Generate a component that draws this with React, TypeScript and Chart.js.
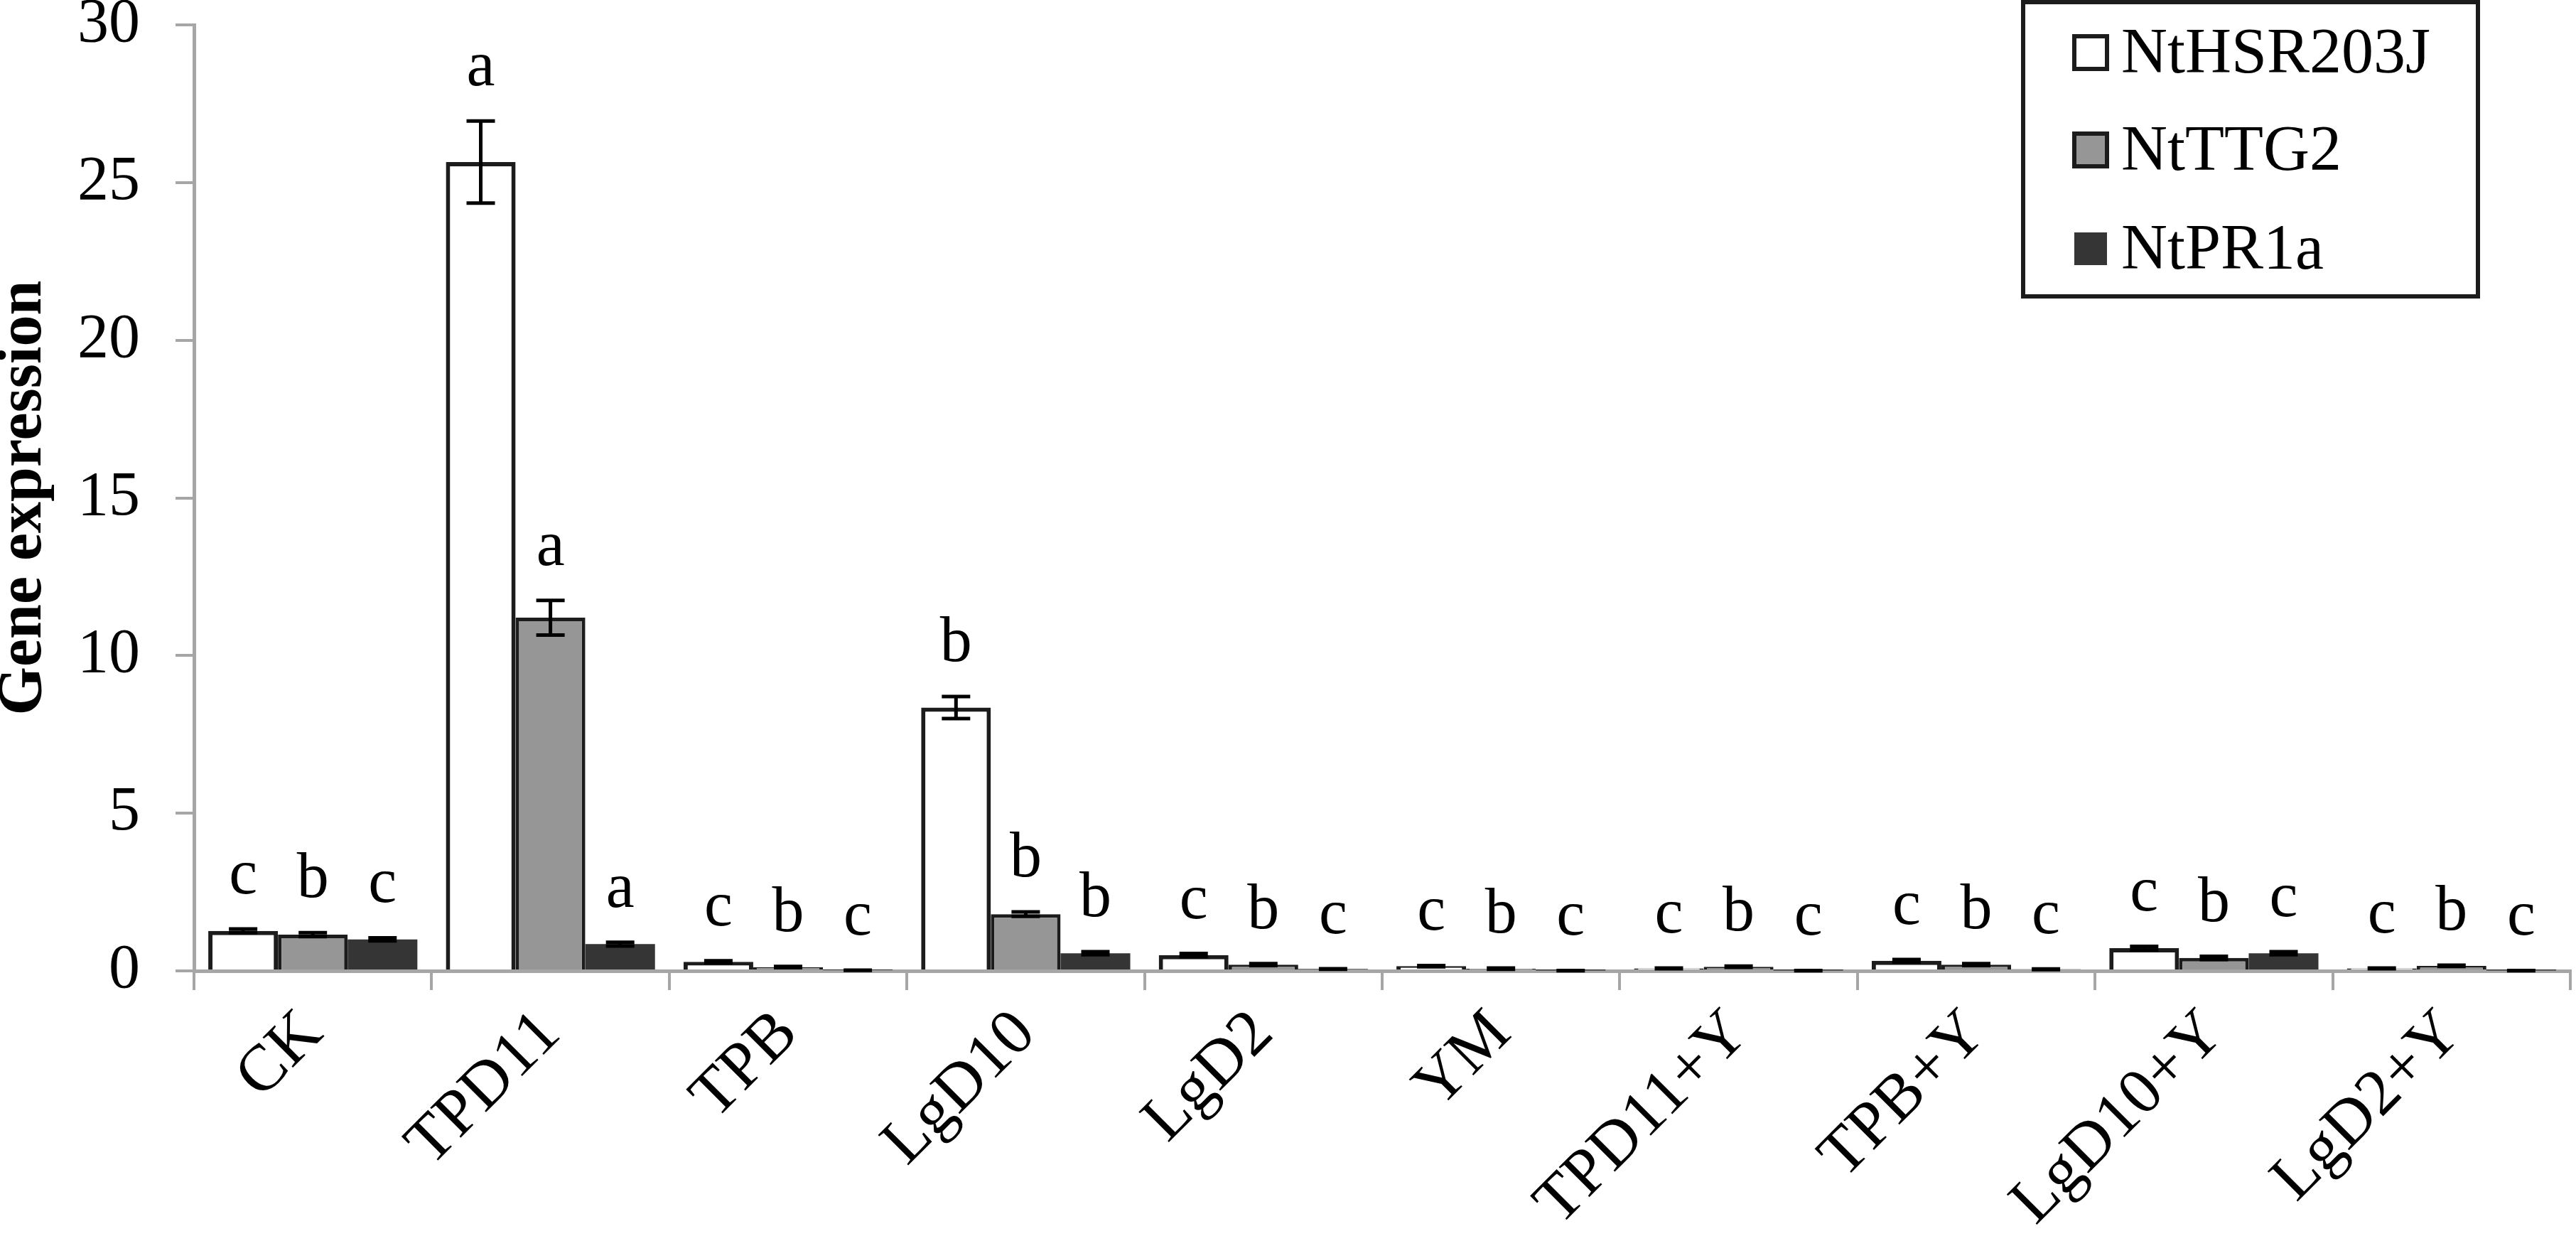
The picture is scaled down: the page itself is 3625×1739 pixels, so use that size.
import React, { useEffect, useRef } from "react";
import { Chart, registerables } from "chart.js";

Chart.register(...registerables);

const categories = ["CK", "TPD11", "TPB", "LgD10", "LgD2", "YM", "TPD11+Y", "TPB+Y", "LgD10+Y", "LgD2+Y"];
const seriesNames = ["NtHSR203J", "NtTTG2", "NtPR1a"];

const hsrValues = [1.27, 25.65, 0.29, 8.35, 0.5, 0.15, 0.08, 0.32, 0.72, 0.08];
const hsrErrors = [0.06, 1.3, 0.03, 0.35, 0.05, 0.02, 0.01, 0.04, 0.06, 0.01];
const hsrLetters = ["c", "a", "c", "b", "c", "c", "c", "c", "c", "c"];

const ttgValues = [1.15, 11.2, 0.12, 1.8, 0.2, 0.07, 0.13, 0.2, 0.41, 0.16];
const ttgErrors = [0.06, 0.55, 0.02, 0.07, 0.03, 0.02, 0.02, 0.03, 0.05, 0.02];
const ttgLetters = ["b", "a", "b", "b", "b", "b", "b", "b", "b", "b"];

const prValues = [1.0, 0.85, 0.02, 0.56, 0.06, 0.01, 0.01, 0.05, 0.56, 0.01];
const prErrors = [0.05, 0.06, 0.005, 0.05, 0.01, 0.003, 0.003, 0.01, 0.05, 0.003];
const prLetters = ["c", "a", "c", "b", "c", "c", "c", "c", "c", "c"];

const yMin = 0;
const yMax = 30;
const yStep = 5;

const FONT = '"Liberation Serif", "Times New Roman", serif';

const errorsBySeries = [hsrErrors, ttgErrors, prErrors];
const lettersBySeries = [hsrLetters, ttgLetters, prLetters];

const errorBarPlugin = {
  id: "errorBarsLetters",
  afterDatasetsDraw(chart: any) {
    const ctx = chart.ctx;
    const yScale = chart.scales.y;
    ctx.save();
    chart.data.datasets.forEach((ds: any, i: number) => {
      const meta = chart.getDatasetMeta(i);
      meta.data.forEach((bar: any, j: number) => {
        const v = ds.data[j];
        const e = errorsBySeries[i][j];
        const x = bar.x;
        const yTop = yScale.getPixelForValue(v + e);
        const yBot = yScale.getPixelForValue(Math.max(0, v - e));
        ctx.strokeStyle = "#000";
        ctx.lineWidth = 5;
        ctx.beginPath();
        ctx.moveTo(x, yTop);
        ctx.lineTo(x, yBot);
        ctx.moveTo(x - 20, yTop);
        ctx.lineTo(x + 20, yTop);
        ctx.moveTo(x - 20, yBot);
        ctx.lineTo(x + 20, yBot);
        ctx.stroke();
        const letter = lettersBySeries[i][j];
        ctx.fillStyle = "#000";
        ctx.font = `90px ${FONT}`;
        ctx.textAlign = "center";
        ctx.textBaseline = "alphabetic";
        ctx.fillText(letter, x, yTop - 50);
      });
    });
    ctx.restore();
  },
};

const legendPlugin = {
  id: "boxLegend",
  afterDraw(chart: any) {
    const ctx = chart.ctx;
    ctx.save();
    const bx = 2847, by = 3, bw = 640, bh = 414;
    ctx.fillStyle = "#fff";
    ctx.fillRect(bx, by, bw, bh);
    ctx.strokeStyle = "#1c1c1c";
    ctx.lineWidth = 6;
    ctx.strokeRect(bx, by, bw, bh);
    const rowBaselines = [102, 239, 378];
    chart.data.datasets.forEach((ds: any, i: number) => {
      const base = rowBaselines[i];
      const sx = 2919, sw = 46, sh = 46;
      const sy = base - 51;
      ctx.fillStyle = ds.backgroundColor;
      ctx.fillRect(sx, sy, sw, sh);
      if (ds.borderWidth > 0) {
        ctx.strokeStyle = "#1c1c1c";
        ctx.lineWidth = 6;
        ctx.strokeRect(sx, sy, sw, sh);
      }
      ctx.fillStyle = "#000";
      ctx.font = `90px ${FONT}`;
      ctx.textAlign = "left";
      ctx.textBaseline = "alphabetic";
      ctx.fillText(ds.label, 2985, base);
    });
    ctx.restore();
  },
};

export default function App() {
  const canvasRef = useRef<HTMLCanvasElement | null>(null);

  useEffect(() => {
    document.body.style.margin = "0";
    const canvas = canvasRef.current;
    if (!canvas) return;
    const chart = new Chart(canvas, {
      type: "bar",
      data: {
        labels: categories,
        datasets: [
          {
            label: seriesNames[0],
            data: hsrValues,
            backgroundColor: "#ffffff",
            borderColor: "#1c1c1c",
            borderWidth: 6,
          },
          {
            label: seriesNames[1],
            data: ttgValues,
            backgroundColor: "#969696",
            borderColor: "#1c1c1c",
            borderWidth: 5,
          },
          {
            label: seriesNames[2],
            data: prValues,
            backgroundColor: "#353535",
            borderColor: "#353535",
            borderWidth: 0,
          },
        ],
      },
      options: {
        responsive: false,
        animation: false,
        devicePixelRatio: 1,
        datasets: { bar: { categoryPercentage: 0.88, barPercentage: 1.0 } },
        layout: { padding: { top: 35, right: 8, left: 0, bottom: 0 }, autoPadding: false },
        plugins: {
          legend: { display: false },
          tooltip: { enabled: false },
        },
        scales: {
          x: {
            ticks: {
              color: "#000",
              font: { family: FONT, size: 92 },
              maxRotation: 45,
              minRotation: 45,
              padding: 8,
              autoSkip: false,
            },
            grid: {
              drawOnChartArea: false,
              drawTicks: true,
              tickLength: 27,
              color: "#a6a6a6",
              lineWidth: 4,
              offset: true,
            },
            border: { color: "#a6a6a6", width: 5 },
            afterFit: (s: any) => {
              s.height = 373;
              s.paddingLeft = 0;
              s.paddingRight = 0;
              s.paddingTop = 0;
              s.paddingBottom = 0;
            },
          },
          y: {
            min: yMin,
            max: yMax,
            ticks: {
              stepSize: yStep,
              color: "#000",
              font: { family: FONT, size: 88 },
              padding: 50,
            },
            grid: {
              drawOnChartArea: false,
              drawTicks: true,
              tickLength: 26,
              color: "#a6a6a6",
              lineWidth: 4,
            },
            border: { color: "#a6a6a6", width: 5 },
            title: {
              display: true,
              text: "Gene expression",
              color: "#000",
              font: { family: FONT, size: 88, weight: "bold", lineHeight: 1 },
              padding: { top: -10, bottom: 0 },
            },
            afterFit: (s: any) => {
              s.width = 273;
              s.paddingTop = 0;
              s.paddingBottom = 0;
              s.paddingLeft = 0;
              s.paddingRight = 0;
            },
          },
        },
      },
      plugins: [errorBarPlugin, legendPlugin],
    } as any);
    return () => chart.destroy();
  }, []);

  return (
    <div style={{ width: 3625, height: 1739, background: "#fff" }}>
      <canvas ref={canvasRef} width={3625} height={1739} style={{ display: "block", width: 3625, height: 1739 }} />
    </div>
  );
}
